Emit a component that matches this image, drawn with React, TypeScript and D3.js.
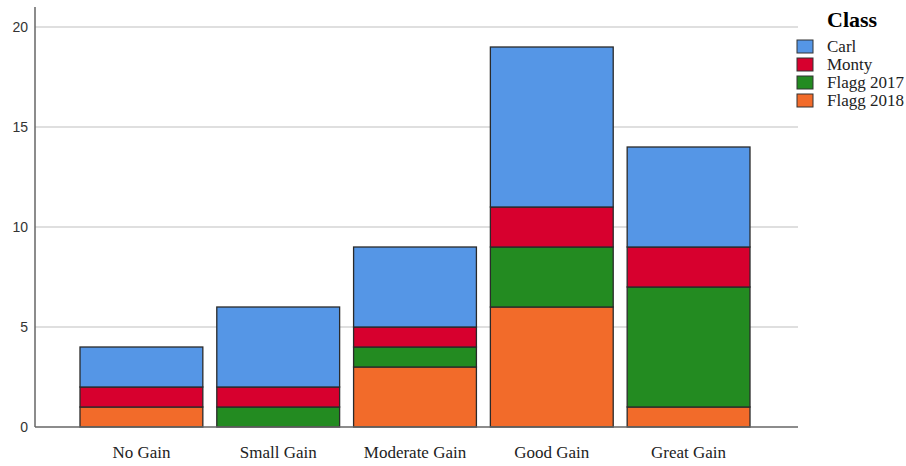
import React from "react";
import * as d3 from "d3";

const categories = ["No Gain", "Small Gain", "Moderate Gain", "Good Gain", "Great Gain"];
const seriesNames = ["Flagg 2018", "Flagg 2017", "Monty", "Carl"];
const flagg2018 = [1, 0, 3, 6, 1];
const flagg2017 = [0, 1, 1, 3, 6];
const monty = [1, 1, 1, 2, 2];
const carl = [2, 4, 4, 8, 5];
const yTicks = [0, 5, 10, 15, 20];
const legendOrder = ["Carl", "Monty", "Flagg 2017", "Flagg 2018"];
const colors: Record<string, string> = {
  Carl: "#5596E6",
  Monty: "#D7002E",
  "Flagg 2017": "#238B21",
  "Flagg 2018": "#F26B2A",
};

export default function App() {
  const W = 906, H = 466;
  const left = 35, right = 798, top = 7, bottom = 427;
  const y = d3.scaleLinear().domain([0, 20]).range([bottom, 27]);
  const x = d3.scaleBand().domain(categories).range([80, 750]).paddingInner(0.102).paddingOuter(0);
  const rows = categories.map((c, i) => ({
    cat: c,
    "Flagg 2018": flagg2018[i],
    "Flagg 2017": flagg2017[i],
    Monty: monty[i],
    Carl: carl[i],
  }));
  const stack = d3.stack<any>().keys(seriesNames)(rows);
  const serif = "'Liberation Serif', 'Times New Roman', serif";
  const sans = "'Liberation Sans', Arial, sans-serif";
  return (
    <svg width={W} height={H} style={{ position: "absolute", left: 0, top: 0 }}>
      <rect width={W} height={H} fill="#fff" />
      {yTicks.map((t) => (
        <g key={t}>
          {t > 0 && <line x1={left} x2={right} y1={y(t)} y2={y(t)} stroke="#d4d4d4" strokeWidth={1.3} />}
          <text x={28} y={y(t) + 5} textAnchor="end" fontFamily={sans} fontSize={14} fill="#333">{t}</text>
        </g>
      ))}
      {stack.map((s) =>
        s.map((d, i) =>
          d[1] - d[0] > 0 ? (
            <rect
              key={s.key + i}
              x={x(categories[i])!}
              width={x.bandwidth()}
              y={y(d[1])}
              height={y(d[0]) - y(d[1])}
              fill={colors[s.key]}
              stroke="#2a2a2a"
              strokeWidth={1.3}
            />
          ) : null
        )
      )}
      <line x1={left} x2={left} y1={top} y2={bottom} stroke="#666" strokeWidth={1.5} />
      <line x1={left} x2={right} y1={bottom} y2={bottom} stroke="#666" strokeWidth={1.5} />
      {categories.map((c) => (
        <text key={c} x={x(c)! + x.bandwidth() / 2} y={458} textAnchor="middle" fontFamily={serif} fontSize={17} fill="#222">{c}</text>
      ))}
      <text x={827} y={27} fontFamily={serif} fontWeight="bold" fontSize={22} fill="#000">Class</text>
      {legendOrder.map((k, i) => (
        <g key={k}>
          <rect x={797} y={40 + i * 18} width={16} height={13} fill={colors[k]} stroke="#333" strokeWidth={1} />
          <text x={827} y={52 + i * 18} fontFamily={serif} fontSize={17} fill="#222">{k}</text>
        </g>
      ))}
    </svg>
  );
}
